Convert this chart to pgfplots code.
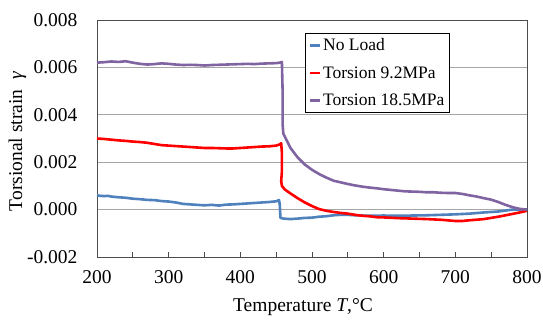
\documentclass[border=0pt]{standalone}
\usepackage{pgfplots}
\pgfplotsset{compat=1.18}
\usepackage{fontspec}
\setmainfont{Liberation Serif}
\definecolor{cblue}{RGB}{79,129,189}
\definecolor{cred}{RGB}{255,0,0}
\definecolor{cpurple}{RGB}{128,100,162}
\begin{document}
\begin{tikzpicture}
\begin{axis}[
  scale only axis,
  width=430pt, height=237pt,
  xmin=200, xmax=800, ymin=-0.002, ymax=0.008,
  xtick={200,300,...,800},
  minor xtick={250,350,...,750},
  ytick={-0.002,0,0.002,0.004,0.006,0.008},
  /pgf/number format/assume math mode=true,
  xticklabel={\pgfmathprintnumber[assume math mode=true,1000 sep={}]{\tick}},
  yticklabel={\pgfmathprintnumber[assume math mode=true,fixed,fixed zerofill,precision=3]{\tick}},
  ymajorgrids, grid style={black!35, line width=0.8pt},
  tick align=inside, xtick pos=bottom, ytick pos=left,
  major tick length=5pt, minor tick length=5pt,
  ytick style={draw=none},
  tick style={black!70, line width=0.8pt},
  axis line style={black!70, line width=0.8pt},
  scaled y ticks=false,
  yticklabel style={xshift=-16pt},
  xticklabel style={yshift=-10pt},
  tick label style={font=\fontsize{19.5}{22}\selectfont},
  label style={font=\fontsize{19.5}{22}\selectfont},
  xlabel={Temperature \textit{T},°C},
  ylabel={Torsional strain \ \textit{γ}},
  xlabel style={yshift=-8pt, xshift=-9pt},
  ylabel style={yshift=-6pt, xshift=-3pt},
  legend style={at={(axis description cs:0.484,0.945)}, anchor=north west,
    font=\fontsize{17.5}{19}\selectfont, draw=black, line width=0.8pt,
    inner sep=3pt, row sep=10.5pt, cells={anchor=west}},
  legend image code/.code={\draw[#1, line width=2.6pt] (0pt,0pt) -- (10pt,0pt);},
  every axis plot/.append style={line width=2.6pt, line join=round},
]
\addplot[cblue] coordinates {
(200,0.00060)(205,0.00058)(210,0.00057)(215,0.00058)(220,0.00055)(230,0.00052)(240,0.00050)(250,0.00046)(260,0.00044)(270,0.00041)(280,0.00040)(290,0.00036)(300,0.00034)(310,0.00030)(320,0.00024)(330,0.00022)(340,0.00020)(350,0.00018)(360,0.00020)(370,0.00017)(380,0.00021)(390,0.00022)(400,0.00024)(410,0.00026)(420,0.00028)(430,0.00030)(440,0.00032)(450,0.00035)(454,0.00040)(455,0.00022)(456,-0.00035)(460,-0.00038)(470,-0.00040)(480,-0.00038)(490,-0.00035)(500,-0.00034)(510,-0.00030)(520,-0.00028)(530,-0.00024)(540,-0.00022)(550,-0.00022)(560,-0.00024)(580,-0.00026)(600,-0.00025)(620,-0.00026)(640,-0.00025)(660,-0.00024)(680,-0.00022)(700,-0.00020)(720,-0.00017)(740,-0.00012)(760,-0.00008)(770,-0.00004)(780,0.00000)(790,0.00000)(800,0.00000)
};
\addlegendentry{No Load}
\addplot[cred] coordinates {
(200,0.00300)(210,0.00298)(220,0.00295)(230,0.00292)(240,0.00290)(250,0.00287)(260,0.00285)(270,0.00282)(280,0.00277)(290,0.00272)(300,0.00270)(310,0.00268)(320,0.00266)(330,0.00264)(340,0.00262)(350,0.00260)(360,0.00260)(370,0.00259)(380,0.00258)(390,0.00258)(400,0.00260)(410,0.00262)(420,0.00264)(430,0.00266)(440,0.00267)(450,0.00270)(455,0.00275)(457,0.00280)(458,0.00240)(458,0.00160)(457,0.00120)(458,0.00100)(462,0.00085)(470,0.00068)(480,0.00048)(490,0.00030)(500,0.00015)(510,0.00002)(520,-0.00005)(530,-0.00010)(540,-0.00014)(550,-0.00017)(560,-0.00022)(570,-0.00026)(580,-0.00028)(590,-0.00032)(600,-0.00033)(620,-0.00036)(640,-0.00038)(660,-0.00040)(680,-0.00043)(700,-0.00048)(710,-0.00048)(720,-0.00045)(740,-0.00040)(760,-0.00030)(780,-0.00018)(790,-0.00012)(800,-0.00005)
};
\addlegendentry{Torsion 9.2MPa}
\addplot[cpurple] coordinates {
(200,0.00620)(210,0.00622)(220,0.00625)(230,0.00623)(240,0.00626)(250,0.00620)(260,0.00615)(270,0.00612)(280,0.00614)(290,0.00617)(300,0.00615)(310,0.00612)(320,0.00610)(330,0.00611)(340,0.00610)(350,0.00608)(360,0.00610)(370,0.00611)(380,0.00612)(390,0.00613)(400,0.00614)(410,0.00615)(420,0.00614)(430,0.00616)(440,0.00617)(450,0.00618)(455,0.00620)(458,0.00623)(459,0.00500)(459,0.00360)(460,0.00320)(465,0.00290)(470,0.00260)(480,0.00220)(490,0.00190)(500,0.00168)(510,0.00150)(520,0.00135)(530,0.00122)(540,0.00115)(550,0.00108)(560,0.00102)(570,0.00097)(580,0.00093)(590,0.00090)(600,0.00086)(610,0.00083)(620,0.00080)(630,0.00077)(640,0.00076)(650,0.00075)(660,0.00073)(670,0.00073)(680,0.00071)(690,0.00070)(700,0.00070)(710,0.00066)(720,0.00060)(730,0.00055)(740,0.00048)(750,0.00042)(760,0.00032)(770,0.00020)(780,0.00010)(790,0.00003)(800,0.00000)
};
\addlegendentry{Torsion 18.5MPa}
\end{axis}
\pgfresetboundingbox
\path ([xshift=-97pt,yshift=-67pt]current axis.south west) rectangle ([xshift=16pt,yshift=20pt]current axis.north east);
\end{tikzpicture}
\end{document}
